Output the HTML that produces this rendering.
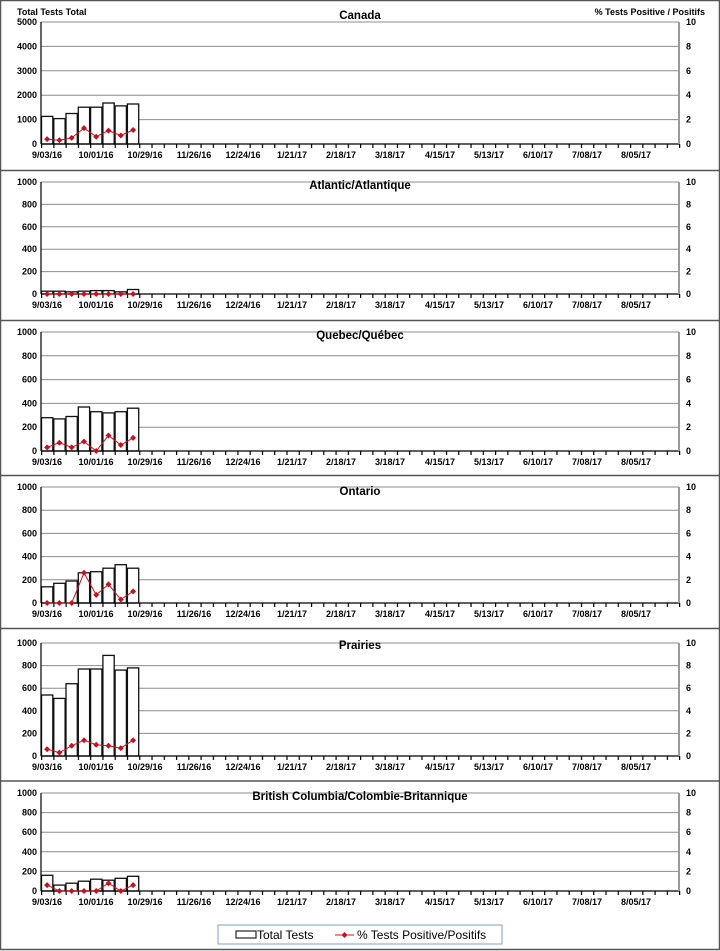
<!DOCTYPE html>
<html><head><meta charset="utf-8"><style>
html,body{margin:0;padding:0;background:#fff}
svg{display:block}
text{font-family:"Liberation Sans",Arial,sans-serif}
.b{font-weight:bold;font-size:9px;fill:#000}
.t{font-weight:bold;font-size:11.5px;fill:#000}
.g{stroke:#8c8c8c;stroke-width:1}
.ax{stroke:#000;stroke-width:1.2}
.ra{stroke:#9a9a9a;stroke-width:2}
.bar{fill:#fff;stroke:#111;stroke-width:1.3}
.ln{fill:none;stroke:#d01020;stroke-width:1}
.mk{fill:#c8101e}
</style></head><body>
<svg width="720" height="951" viewBox="0 0 720 951" xmlns="http://www.w3.org/2000/svg">
<defs>
<pattern id="tk" x="41" y="0" width="12.27" height="10" patternUnits="userSpaceOnUse"><line x1="0.6" y1="0" x2="0.6" y2="10" stroke="#000" stroke-width="1.2"/></pattern>
<path id="dm" d="M0,-3 L3,0 L0,3 L-3,0Z"/>
</defs>
<rect x="0.5" y="0.5" width="719" height="949" fill="none" stroke="#555" stroke-width="1.5"/>
<g stroke="#555" stroke-width="1.5">
<line x1="0" y1="170.5" x2="720" y2="170.5"/><line x1="0" y1="320.5" x2="720" y2="320.5"/>
<line x1="0" y1="475.5" x2="720" y2="475.5"/><line x1="0" y1="628.5" x2="720" y2="628.5"/>
<line x1="0" y1="781" x2="720" y2="781"/></g>

<text class="b" x="17" y="15" font-size="9.5">Total Tests  Total</text>
<text class="b" x="705" y="15" text-anchor="end" font-size="9.5">% Tests  Positive  / Positifs</text>

<!-- Panel 1 T=22 B=144 -->
<g>
<g class="g"><line x1="41" y1="22" x2="679" y2="22"/><line x1="41" y1="46.4" x2="679" y2="46.4"/><line x1="41" y1="70.8" x2="679" y2="70.8"/><line x1="41" y1="95.2" x2="679" y2="95.2"/><line x1="41" y1="119.6" x2="679" y2="119.6"/></g>
<rect x="41" y="144" width="640" height="4" fill="url(#tk)"/>
<text class="t" x="360" y="19" text-anchor="middle">Canada</text>
<g class="b" text-anchor="end"><text x="37" y="25">5000</text><text x="37" y="49.4">4000</text><text x="37" y="73.8">3000</text><text x="37" y="98.2">2000</text><text x="37" y="122.6">1000</text><text x="37" y="147">0</text></g>
<g class="b"><text x="686" y="25">10</text><text x="686" y="49.4">8</text><text x="686" y="73.8">6</text><text x="686" y="98.2">4</text><text x="686" y="122.6">2</text><text x="686" y="147">0</text></g>
<g class="bar"><rect x="41.5" y="116.4" width="11.3" height="27.6"/><rect x="53.8" y="118.6" width="11.3" height="25.4"/><rect x="66" y="113.5" width="11.3" height="30.5"/><rect x="78.3" y="107.2" width="11.3" height="36.8"/><rect x="90.6" y="107.2" width="11.3" height="36.8"/><rect x="102.9" y="103" width="11.3" height="41"/><rect x="115.1" y="105.9" width="11.3" height="38.1"/><rect x="127.4" y="104" width="11.3" height="40"/></g>
<line class="ax" x1="41" y1="22" x2="41" y2="144"/><line class="ax" x1="41" y1="144" x2="679" y2="144"/><line class="ra" x1="679" y1="22" x2="679" y2="144"/>
<polyline class="ln" points="47.1,139.1 59.4,140.3 71.7,137.9 84,128.1 96.2,136.7 108.5,130.6 120.8,135.5 133.1,130"/>
<g class="mk"><use href="#dm" x="47.1" y="139.1"/><use href="#dm" x="59.4" y="140.3"/><use href="#dm" x="71.7" y="137.9"/><use href="#dm" x="84" y="128.1"/><use href="#dm" x="96.2" y="136.7"/><use href="#dm" x="108.5" y="130.6"/><use href="#dm" x="120.8" y="135.5"/><use href="#dm" x="133.1" y="130"/></g>
<g class="b" text-anchor="middle"><text x="47" y="158">9/03/16</text><text x="96" y="158">10/01/16</text><text x="145" y="158">10/29/16</text><text x="194" y="158">11/26/16</text><text x="243" y="158">12/24/16</text><text x="292" y="158">1/21/17</text><text x="341" y="158">2/18/17</text><text x="390" y="158">3/18/17</text><text x="440" y="158">4/15/17</text><text x="489" y="158">5/13/17</text><text x="538" y="158">6/10/17</text><text x="587" y="158">7/08/17</text><text x="636" y="158">8/05/17</text></g>
</g>

<!-- Panel 2 T=182 B=294 -->
<g>
<g class="g"><line x1="41" y1="182" x2="679" y2="182"/><line x1="41" y1="204.4" x2="679" y2="204.4"/><line x1="41" y1="226.8" x2="679" y2="226.8"/><line x1="41" y1="249.2" x2="679" y2="249.2"/><line x1="41" y1="271.6" x2="679" y2="271.6"/></g>
<rect x="41" y="294" width="640" height="4" fill="url(#tk)"/>
<text class="t" x="360" y="189" text-anchor="middle">Atlantic/Atlantique</text>
<g class="b" text-anchor="end"><text x="37" y="185">1000</text><text x="37" y="207.4">800</text><text x="37" y="229.8">600</text><text x="37" y="252.2">400</text><text x="37" y="274.6">200</text><text x="37" y="297">0</text></g>
<g class="b"><text x="686" y="185">10</text><text x="686" y="207.4">8</text><text x="686" y="229.8">6</text><text x="686" y="252.2">4</text><text x="686" y="274.6">2</text><text x="686" y="297">0</text></g>
<g class="bar"><rect x="41.5" y="291.2" width="11.3" height="2.8"/><rect x="53.8" y="291.2" width="11.3" height="2.8"/><rect x="66" y="291.8" width="11.3" height="2.2"/><rect x="78.3" y="291.2" width="11.3" height="2.8"/><rect x="90.6" y="290.6" width="11.3" height="3.4"/><rect x="102.9" y="290.6" width="11.3" height="3.4"/><rect x="115.1" y="291.8" width="11.3" height="2.2"/><rect x="127.4" y="289.5" width="11.3" height="4.5"/></g>
<line class="ax" x1="41" y1="182" x2="41" y2="294"/><line class="ax" x1="41" y1="294" x2="679" y2="294"/><line class="ra" x1="679" y1="182" x2="679" y2="294"/>
<polyline class="ln" points="47.1,294 133.1,294"/>
<g class="mk"><use href="#dm" x="47.1" y="294"/><use href="#dm" x="59.4" y="294"/><use href="#dm" x="71.7" y="294"/><use href="#dm" x="84" y="294"/><use href="#dm" x="96.2" y="294"/><use href="#dm" x="108.5" y="294"/><use href="#dm" x="120.8" y="294"/><use href="#dm" x="133.1" y="294"/></g>
<g class="b" text-anchor="middle"><text x="47" y="308">9/03/16</text><text x="96" y="308">10/01/16</text><text x="145" y="308">10/29/16</text><text x="194" y="308">11/26/16</text><text x="243" y="308">12/24/16</text><text x="292" y="308">1/21/17</text><text x="341" y="308">2/18/17</text><text x="390" y="308">3/18/17</text><text x="440" y="308">4/15/17</text><text x="489" y="308">5/13/17</text><text x="538" y="308">6/10/17</text><text x="587" y="308">7/08/17</text><text x="636" y="308">8/05/17</text></g>
</g>

<!-- Panel 3 T=332 B=451 -->
<g>
<g class="g"><line x1="41" y1="332" x2="679" y2="332"/><line x1="41" y1="355.8" x2="679" y2="355.8"/><line x1="41" y1="379.6" x2="679" y2="379.6"/><line x1="41" y1="403.4" x2="679" y2="403.4"/><line x1="41" y1="427.2" x2="679" y2="427.2"/></g>
<rect x="41" y="451" width="640" height="4" fill="url(#tk)"/>
<text class="t" x="360" y="339" text-anchor="middle">Quebec/Québec</text>
<g class="b" text-anchor="end"><text x="37" y="335">1000</text><text x="37" y="358.8">800</text><text x="37" y="382.6">600</text><text x="37" y="406.4">400</text><text x="37" y="430.2">200</text><text x="37" y="454">0</text></g>
<g class="b"><text x="686" y="335">10</text><text x="686" y="358.8">8</text><text x="686" y="382.6">6</text><text x="686" y="406.4">4</text><text x="686" y="430.2">2</text><text x="686" y="454">0</text></g>
<g class="bar"><rect x="41.5" y="417.7" width="11.3" height="33.3"/><rect x="53.8" y="418.9" width="11.3" height="32.1"/><rect x="66" y="416.5" width="11.3" height="34.5"/><rect x="78.3" y="407" width="11.3" height="44"/><rect x="90.6" y="411.7" width="11.3" height="39.3"/><rect x="102.9" y="412.9" width="11.3" height="38.1"/><rect x="115.1" y="411.7" width="11.3" height="39.3"/><rect x="127.4" y="408.2" width="11.3" height="42.8"/></g>
<line class="ax" x1="41" y1="332" x2="41" y2="451"/><line class="ax" x1="41" y1="451" x2="679" y2="451"/><line class="ra" x1="679" y1="332" x2="679" y2="451"/>
<polyline class="ln" points="47.1,447.4 59.4,442.7 71.7,447.4 84,441.5 96.2,451 108.5,435.5 120.8,445 133.1,437.9"/>
<g class="mk"><use href="#dm" x="47.1" y="447.4"/><use href="#dm" x="59.4" y="442.7"/><use href="#dm" x="71.7" y="447.4"/><use href="#dm" x="84" y="441.5"/><use href="#dm" x="96.2" y="451"/><use href="#dm" x="108.5" y="435.5"/><use href="#dm" x="120.8" y="445"/><use href="#dm" x="133.1" y="437.9"/></g>
<g class="b" text-anchor="middle"><text x="47" y="465">9/03/16</text><text x="96" y="465">10/01/16</text><text x="145" y="465">10/29/16</text><text x="194" y="465">11/26/16</text><text x="243" y="465">12/24/16</text><text x="292" y="465">1/21/17</text><text x="341" y="465">2/18/17</text><text x="390" y="465">3/18/17</text><text x="440" y="465">4/15/17</text><text x="489" y="465">5/13/17</text><text x="538" y="465">6/10/17</text><text x="587" y="465">7/08/17</text><text x="636" y="465">8/05/17</text></g>
</g>

<!-- Panel 4 T=487 B=603 -->
<g>
<g class="g"><line x1="41" y1="487" x2="679" y2="487"/><line x1="41" y1="510.2" x2="679" y2="510.2"/><line x1="41" y1="533.4" x2="679" y2="533.4"/><line x1="41" y1="556.6" x2="679" y2="556.6"/><line x1="41" y1="579.8" x2="679" y2="579.8"/></g>
<rect x="41" y="603" width="640" height="4" fill="url(#tk)"/>
<text class="t" x="360" y="495" text-anchor="middle">Ontario</text>
<g class="b" text-anchor="end"><text x="37" y="490">1000</text><text x="37" y="513.2">800</text><text x="37" y="536.4">600</text><text x="37" y="559.6">400</text><text x="37" y="582.8">200</text><text x="37" y="606">0</text></g>
<g class="b"><text x="686" y="490">10</text><text x="686" y="513.2">8</text><text x="686" y="536.4">6</text><text x="686" y="559.6">4</text><text x="686" y="582.8">2</text><text x="686" y="606">0</text></g>
<g class="bar"><rect x="41.5" y="586.8" width="11.3" height="16.2"/><rect x="53.8" y="583.3" width="11.3" height="19.7"/><rect x="66" y="581" width="11.3" height="22"/><rect x="78.3" y="572.8" width="11.3" height="30.2"/><rect x="90.6" y="571.7" width="11.3" height="31.3"/><rect x="102.9" y="568.2" width="11.3" height="34.8"/><rect x="115.1" y="564.7" width="11.3" height="38.3"/><rect x="127.4" y="568.2" width="11.3" height="34.8"/></g>
<line class="ax" x1="41" y1="487" x2="41" y2="603"/><line class="ax" x1="41" y1="603" x2="679" y2="603"/><line class="ra" x1="679" y1="487" x2="679" y2="603"/>
<polyline class="ln" points="47.1,603 59.4,603 71.7,603 84,572.8 96.2,594.9 108.5,584.4 120.8,599.5 133.1,591.4"/>
<g class="mk"><use href="#dm" x="47.1" y="603"/><use href="#dm" x="59.4" y="603"/><use href="#dm" x="71.7" y="603"/><use href="#dm" x="84" y="572.8"/><use href="#dm" x="96.2" y="594.9"/><use href="#dm" x="108.5" y="584.4"/><use href="#dm" x="120.8" y="599.5"/><use href="#dm" x="133.1" y="591.4"/></g>
<g class="b" text-anchor="middle"><text x="47" y="617">9/03/16</text><text x="96" y="617">10/01/16</text><text x="145" y="617">10/29/16</text><text x="194" y="617">11/26/16</text><text x="243" y="617">12/24/16</text><text x="292" y="617">1/21/17</text><text x="341" y="617">2/18/17</text><text x="390" y="617">3/18/17</text><text x="440" y="617">4/15/17</text><text x="489" y="617">5/13/17</text><text x="538" y="617">6/10/17</text><text x="587" y="617">7/08/17</text><text x="636" y="617">8/05/17</text></g>
</g>

<!-- Panel 5 T=643 B=756 -->
<g>
<g class="g"><line x1="41" y1="643" x2="679" y2="643"/><line x1="41" y1="665.6" x2="679" y2="665.6"/><line x1="41" y1="688.2" x2="679" y2="688.2"/><line x1="41" y1="710.8" x2="679" y2="710.8"/><line x1="41" y1="733.4" x2="679" y2="733.4"/></g>
<rect x="41" y="756" width="640" height="4" fill="url(#tk)"/>
<text class="t" x="360" y="649" text-anchor="middle">Prairies</text>
<g class="b" text-anchor="end"><text x="37" y="646">1000</text><text x="37" y="668.6">800</text><text x="37" y="691.2">600</text><text x="37" y="713.8">400</text><text x="37" y="736.4">200</text><text x="37" y="759">0</text></g>
<g class="b"><text x="686" y="646">10</text><text x="686" y="668.6">8</text><text x="686" y="691.2">6</text><text x="686" y="713.8">4</text><text x="686" y="736.4">2</text><text x="686" y="759">0</text></g>
<g class="bar"><rect x="41.5" y="695" width="11.3" height="61"/><rect x="53.8" y="698.4" width="11.3" height="57.6"/><rect x="66" y="683.7" width="11.3" height="72.3"/><rect x="78.3" y="669" width="11.3" height="87"/><rect x="90.6" y="669" width="11.3" height="87"/><rect x="102.9" y="655.4" width="11.3" height="100.6"/><rect x="115.1" y="670.1" width="11.3" height="85.9"/><rect x="127.4" y="667.9" width="11.3" height="88.1"/></g>
<line class="ax" x1="41" y1="643" x2="41" y2="756"/><line class="ax" x1="41" y1="756" x2="679" y2="756"/><line class="ra" x1="679" y1="643" x2="679" y2="756"/>
<polyline class="ln" points="47.1,749.2 59.4,752.6 71.7,745.8 84,740.2 96.2,744.7 108.5,745.8 120.8,748.1 133.1,740.2"/>
<g class="mk"><use href="#dm" x="47.1" y="749.2"/><use href="#dm" x="59.4" y="752.6"/><use href="#dm" x="71.7" y="745.8"/><use href="#dm" x="84" y="740.2"/><use href="#dm" x="96.2" y="744.7"/><use href="#dm" x="108.5" y="745.8"/><use href="#dm" x="120.8" y="748.1"/><use href="#dm" x="133.1" y="740.2"/></g>
<g class="b" text-anchor="middle"><text x="47" y="770">9/03/16</text><text x="96" y="770">10/01/16</text><text x="145" y="770">10/29/16</text><text x="194" y="770">11/26/16</text><text x="243" y="770">12/24/16</text><text x="292" y="770">1/21/17</text><text x="341" y="770">2/18/17</text><text x="390" y="770">3/18/17</text><text x="440" y="770">4/15/17</text><text x="489" y="770">5/13/17</text><text x="538" y="770">6/10/17</text><text x="587" y="770">7/08/17</text><text x="636" y="770">8/05/17</text></g>
</g>

<!-- Panel 6 T=793 B=891 -->
<g>
<g class="g"><line x1="41" y1="793" x2="679" y2="793"/><line x1="41" y1="812.6" x2="679" y2="812.6"/><line x1="41" y1="832.2" x2="679" y2="832.2"/><line x1="41" y1="851.8" x2="679" y2="851.8"/><line x1="41" y1="871.4" x2="679" y2="871.4"/></g>
<rect x="41" y="891" width="640" height="4" fill="url(#tk)"/>
<text class="t" x="360" y="800" text-anchor="middle">British Columbia/Colombie-Britannique</text>
<g class="b" text-anchor="end"><text x="37" y="796">1000</text><text x="37" y="815.6">800</text><text x="37" y="835.2">600</text><text x="37" y="854.8">400</text><text x="37" y="874.4">200</text><text x="37" y="894">0</text></g>
<g class="b"><text x="686" y="796">10</text><text x="686" y="815.6">8</text><text x="686" y="835.2">6</text><text x="686" y="854.8">4</text><text x="686" y="874.4">2</text><text x="686" y="894">0</text></g>
<g class="bar"><rect x="41.5" y="875.3" width="11.3" height="15.7"/><rect x="53.8" y="885.1" width="11.3" height="5.9"/><rect x="66" y="883.2" width="11.3" height="7.8"/><rect x="78.3" y="881.2" width="11.3" height="9.8"/><rect x="90.6" y="879.2" width="11.3" height="11.8"/><rect x="102.9" y="880.2" width="11.3" height="10.8"/><rect x="115.1" y="878.3" width="11.3" height="12.7"/><rect x="127.4" y="876.3" width="11.3" height="14.7"/></g>
<line class="ax" x1="41" y1="793" x2="41" y2="891"/><line class="ax" x1="41" y1="891" x2="679" y2="891"/><line class="ra" x1="679" y1="793" x2="679" y2="891"/>
<polyline class="ln" points="47.1,885.1 59.4,891 71.7,891 84,891 96.2,891 108.5,883.2 120.8,891 133.1,885.1"/>
<g class="mk"><use href="#dm" x="47.1" y="885.1"/><use href="#dm" x="59.4" y="891"/><use href="#dm" x="71.7" y="891"/><use href="#dm" x="84" y="891"/><use href="#dm" x="96.2" y="891"/><use href="#dm" x="108.5" y="883.2"/><use href="#dm" x="120.8" y="891"/><use href="#dm" x="133.1" y="885.1"/></g>
<g class="b" text-anchor="middle"><text x="47" y="905">9/03/16</text><text x="96" y="905">10/01/16</text><text x="145" y="905">10/29/16</text><text x="194" y="905">11/26/16</text><text x="243" y="905">12/24/16</text><text x="292" y="905">1/21/17</text><text x="341" y="905">2/18/17</text><text x="390" y="905">3/18/17</text><text x="440" y="905">4/15/17</text><text x="489" y="905">5/13/17</text><text x="538" y="905">6/10/17</text><text x="587" y="905">7/08/17</text><text x="636" y="905">8/05/17</text></g>
</g>

<!-- Legend -->
<rect x="218" y="925" width="284" height="19" fill="#fff" stroke="#7f9fcf" stroke-width="1"/>
<rect x="236" y="931" width="20" height="7" fill="#fff" stroke="#222" stroke-width="1.2"/>
<text x="257" y="939" font-size="12" fill="#000">Total Tests</text>
<line x1="335" y1="935" x2="354" y2="935" stroke="#d01020" stroke-width="1"/>
<use href="#dm" x="344.5" y="935" class="mk"/>
<text x="357" y="939" font-size="12" fill="#000">% Tests Positive/Positifs</text>
</svg>
</body></html>
